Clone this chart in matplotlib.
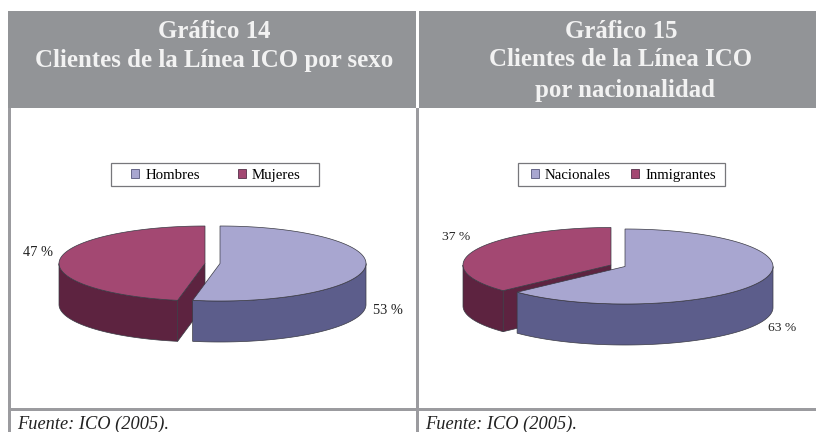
import numpy as np
import matplotlib
matplotlib.use("Agg")
import matplotlib.pyplot as plt
from matplotlib.patches import Patch, Rectangle

# chart values, percent
sexo_labels = ["Hombres", "Mujeres"]
sexo_values = [53, 47]
nacion_labels = ["Nacionales", "Inmigrantes"]
nacion_values = [63, 37]

title_14 = ["Gráfico 14", "Clientes de la Línea ICO por sexo"]
title_15 = ["Gráfico 15", "Clientes de la Línea ICO", "por nacionalidad"]
source = "Fuente: ICO (2005)."

GREY = "#929497"
RULE = "#9b9b9f"
LIGHT_TOP, LIGHT_SIDE = "#a8a6d0", "#5c5d8b"
RED_TOP, RED_SIDE = "#a34872", "#5d2340"
EDGE = "#3a3a44"
DEPTH = 41

plt.rcParams["font.family"] = "Liberation Serif"

fig = plt.figure(figsize=(8.16, 4.32), dpi=100)
ax = fig.add_axes([0, 0, 1, 1])
ax.set_xlim(0, 816)
ax.set_ylim(432, 0)
ax.axis("off")


def arc(cx, cy, rx, ry, start, end):
    # angles are degrees clockwise from 12 o'clock, as the pie is drawn
    t = np.radians(np.linspace(start, end, 120))
    return cx + rx * np.sin(t), cy - ry * np.cos(t)


def draw_slice(cx, cy, rx, ry, start, end, top, side):
    lo, hi = max(start, 90), min(end, 270)
    if hi > lo:
        x, y = arc(cx, cy, rx, ry, lo, hi)
        ax.fill(np.r_[x, x[::-1]], np.r_[y, y[::-1] + DEPTH],
                fc=side, ec=EDGE, lw=0.5, zorder=2)
    x, y = arc(cx, cy, rx, ry, start, end)
    ax.fill(np.r_[cx, x], np.r_[cy, y], fc=top, ec=EDGE, lw=0.5, zorder=2)


def draw_cut(cx, cy, rx, ry, angle, side):
    x, y = arc(cx, cy, rx, ry, angle, angle)
    ax.fill([cx, x[0], x[0], cx], [cy, y[0], y[0] + DEPTH, cy + DEPTH],
            fc=side, ec=EDGE, lw=0.5, zorder=2)


def draw_pie(values, light_c, red_c, rx, ry):
    split = 360 * values[0] / sum(values)
    draw_cut(red_c[0], red_c[1], rx, ry, split, RED_SIDE)
    draw_slice(red_c[0], red_c[1], rx, ry, split, 360, RED_TOP, RED_SIDE)
    draw_slice(light_c[0], light_c[1], rx, ry, 0, split, LIGHT_TOP, LIGHT_SIDE)


def draw_legend(labels, box, center, spacing):
    ax.add_patch(Rectangle((box[0], 163), box[1] - box[0], 23, fc="white",
                           ec="#77777b", lw=0.9, zorder=3))
    handles = [Patch(fc=LIGHT_TOP, ec="#55557a", lw=0.6, label=labels[0]),
               Patch(fc=RED_TOP, ec="#55304a", lw=0.6, label=labels[1])]
    ax.legend(handles=handles, ncol=2, frameon=False, fontsize=10.7,
              loc="center", bbox_to_anchor=(center, 175.5),
              bbox_transform=ax.transData, borderpad=0, borderaxespad=0,
              handlelength=0.54, handleheight=0.54, handletextpad=0.42,
              columnspacing=spacing).set_zorder(4)
    return ax.get_legend()


# header bands
ax.add_patch(Rectangle((8, 11), 408, 97, fc=GREY, ec="none"))
ax.add_patch(Rectangle((419, 11), 397, 97, fc=GREY, ec="none"))

# table rules
ax.add_patch(Rectangle((8, 108), 3, 324, fc=RULE, ec="none"))
ax.add_patch(Rectangle((416, 108), 3, 324, fc=RULE, ec="none"))
ax.add_patch(Rectangle((8, 408), 808, 3, fc=RULE, ec="none"))

for text, y in zip(title_14, [32, 60]):
    ax.text(214, y, text, color="#f2f2f2", fontsize=17.9, fontweight="bold",
            ha="center", va="center")
for text, y, x in zip(title_15, [32, 60, 90], [621, 621, 625]):
    ax.text(x, y, text, color="#f2f2f2", fontsize=17.9, fontweight="bold",
            ha="center", va="center")

draw_pie(sexo_values, (220, 263.5), (205, 263.5), 146, 37.5)
draw_pie(nacion_values, (625, 266.5), (611, 265), 148, 37.5)

l1 = draw_legend(sexo_labels, (111, 319), 216, 2.55)
ax.add_artist(l1)
draw_legend(nacion_labels, (518, 725), 623.5, 1.38)

ax.text(23, 253, f"{sexo_values[1]} %", fontsize=10.4, color="#222222", va="center")
ax.text(373, 310, f"{sexo_values[0]} %", fontsize=10.4, color="#222222", va="center")
ax.text(442, 237, f"{nacion_values[1]} %", fontsize=9.7, color="#222222", va="center")
ax.text(768, 328, f"{nacion_values[0]} %", fontsize=9.7, color="#222222", va="center")

ax.text(17, 429, source, fontsize=13.2, style="italic", color="#222222", va="baseline")
ax.text(425, 429, source, fontsize=13.2, style="italic", color="#222222", va="baseline")

fig.savefig("out.png", dpi=100)
